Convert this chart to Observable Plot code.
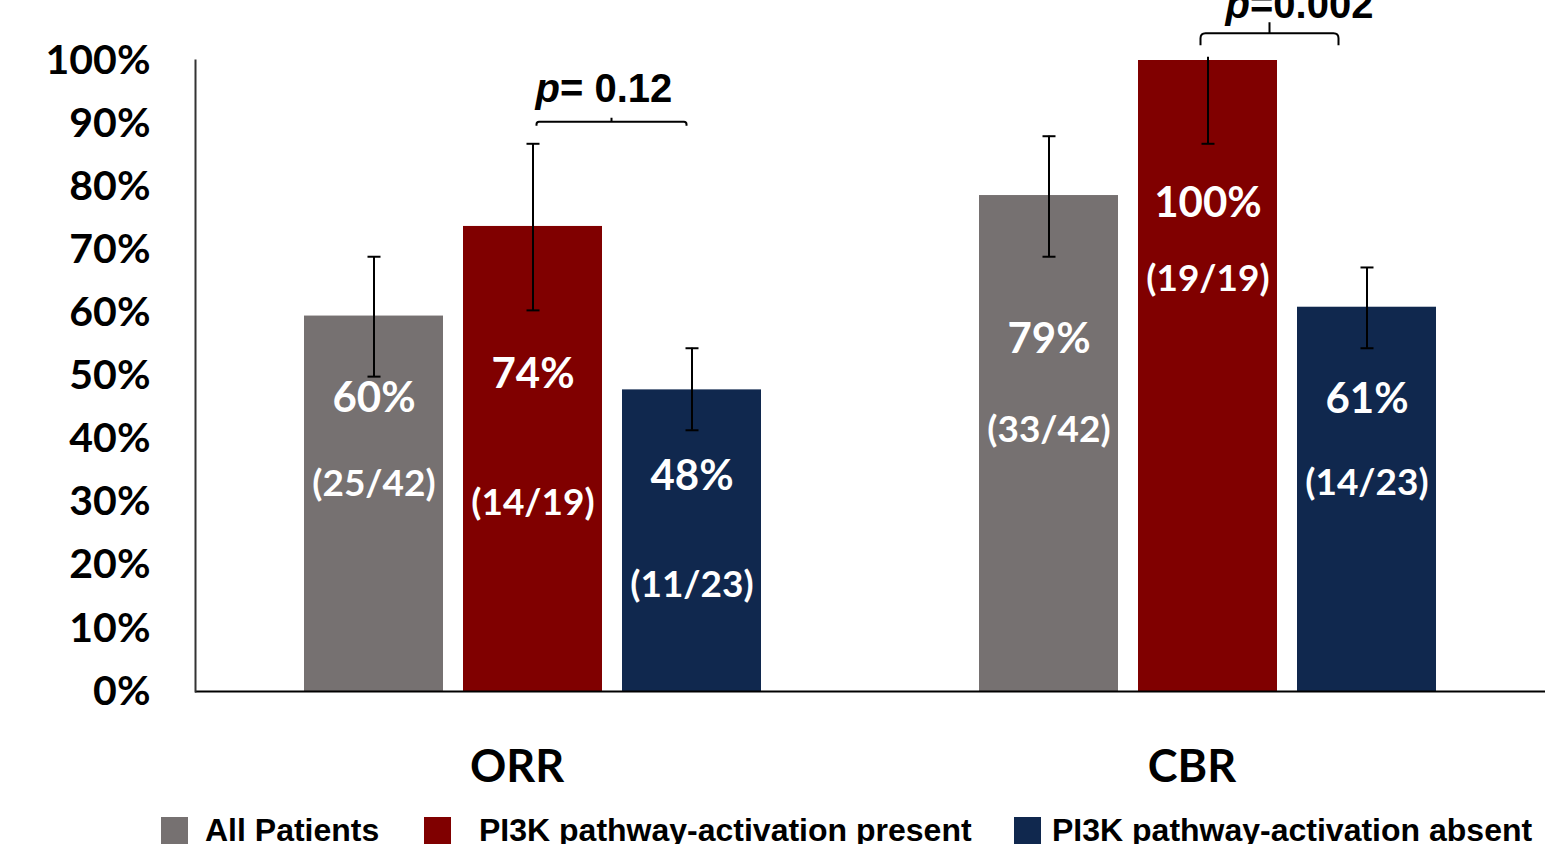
<!DOCTYPE html>
<html>
<head>
<meta charset="utf-8">
<script src="https://cdn.jsdelivr.net/npm/d3@7"></script>
<script src="https://cdn.jsdelivr.net/npm/@observablehq/plot@0.6"></script>
<style>
  html, body { margin: 0; padding: 0; background: #fff; overflow: hidden; }
  #chart svg { display: block; }
  #legend { position: relative; height: 39px; font-family: "Liberation Sans", Arial, sans-serif; font-weight: bold; font-size: 32px; color: #000; }
  #legend .item { position: absolute; top: 12px; height: 27px; display: flex; align-items: center; white-space: nowrap; line-height: 27px; }
  #legend .sw { width: 27px; height: 27px; flex: none; }
</style>
</head>
<body>
<div id="chart"></div>
<div id="legend"></div>
<script>
// ---------------- data ----------------
const groups = ["ORR", "CBR"];
const seriesNames = ["All Patients", "PI3K pathway-activation present", "PI3K pathway-activation absent"];
const seriesColors = ["#767171", "#800000", "#10284E"];

const orrValues = [59.5, 73.7, 47.8];
const cbrValues = [78.6, 100, 60.9];
const orrLow  = [49.9, 60.4, 41.4];
const orrHigh = [68.9, 86.8, 54.4];
const cbrLow  = [68.9, 86.8, 54.4];
const cbrHigh = [88.0, 100.5, 67.2];

const orrPctLabels = ["60%", "74%", "48%"];
const cbrPctLabels = ["79%", "100%", "61%"];
const orrCountLabels = ["(25/42)", "(14/19)", "(11/23)"];
const cbrCountLabels = ["(33/42)", "(19/19)", "(14/23)"];
// where the labels sit inside the bars (in % units, as in the original)
const orrPctLabelAt = [46.4, 50.2, 34.1];
const cbrPctLabelAt = [55.8, 77.3, 46.3];
const orrCountLabelAt = [32.8, 29.8, 16.8];
const cbrCountLabelAt = [41.4, 65.3, 33.0];

const pGroups = ["ORR", "CBR"];
const pValueTexts = ["= 0.12", "=0.002"];
const bracketLevels = [90.3, 104.3];
const pTextLevels = [95.4, 108.7];

const yTicks = [0, 10, 20, 30, 40, 50, 60, 70, 80, 90, 100];

// ---------------- layout / style ----------------
const W = 1557, H = 805, mL = 195, mR = 12, mT = 60, mB = 114;
const padIn = 0.123, padOut = 0.684;
const numFont = "Lato, 'Open Sans', sans-serif";
const arialFont = "'Liberation Sans', Arial, sans-serif";

const valuesBy = {ORR: orrValues, CBR: cbrValues};
const lowBy = {ORR: orrLow, CBR: cbrLow};
const highBy = {ORR: orrHigh, CBR: cbrHigh};
const pctBy = {ORR: orrPctLabels, CBR: cbrPctLabels};
const countBy = {ORR: orrCountLabels, CBR: cbrCountLabels};
const pctAtBy = {ORR: orrPctLabelAt, CBR: cbrPctLabelAt};
const countAtBy = {ORR: orrCountLabelAt, CBR: cbrCountLabelAt};

const rows = groups.flatMap((g) => seriesNames.map((s, i) => ({
  group: g, series: s,
  value: valuesBy[g][i], low: lowBy[g][i], high: highBy[g][i],
  pct: pctBy[g][i], count: countBy[g][i],
  pctAt: pctAtBy[g][i], countAt: countAtBy[g][i]
})));

const pRows = pGroups.map((g, i) => ({group: g, text: pValueTexts[i], bracket: bracketLevels[i], textAt: pTextLevels[i]}));

// horizontal error-bar cap as a symbol
const capSymbol = { draw(ctx) { ctx.moveTo(-6.5, 0); ctx.lineTo(6.5, 0); } };

// bracket drawn between the two link end points
function bracketCurve(endLen, tipLen, padL, padR, r) {
  return (context) => {
    let pts = [];
    return {
      areaStart() {}, areaEnd() {},
      lineStart() { pts = []; },
      point(x, y) { pts.push([+x, +y]); },
      lineEnd() {
        const [x1, y] = pts[0];
        const [x2] = pts[pts.length - 1];
        const a = x1 + padL, b = x2 + padR, m = (a + b) / 2;
        context.moveTo(a, y + endLen);
        context.lineTo(a, y + r);
        context.quadraticCurveTo(a, y, a + r, y);
        context.lineTo(b - r, y);
        context.quadraticCurveTo(b, y, b, y + r);
        context.lineTo(b, y + endLen);
        context.moveTo(m, y);
        context.lineTo(m, y - tipLen);
      }
    };
  };
}
const bracketStyle = {
  ORR: bracketCurve(4, 4, 3.5, -5.5, 2.5),
  CBR: bracketCurve(12, 11, -7.5, -28.5, 5)
};
const pTextOffset = {ORR: 27, CBR: 42};

const pMarks = pRows.flatMap((r) => [
  Plot.link([r], {fx: "group", x1: () => seriesNames[1], x2: () => seriesNames[2], y1: "bracket", y2: "bracket",
    stroke: "black", strokeWidth: 2, curve: bracketStyle[r.group]}),
  Plot.text([r], {fx: "group", x: () => seriesNames[1], y: "textAt", text: () => "p", textAnchor: "end",
    dx: pTextOffset[r.group], fontFamily: arialFont, fontWeight: "bold", fontStyle: "italic", fontSize: 40, fill: "black"}),
  Plot.text([r], {fx: "group", x: () => seriesNames[1], y: "textAt", text: "text", textAnchor: "start",
    dx: pTextOffset[r.group], fontFamily: arialFont, fontWeight: "bold", fontSize: 40, fill: "black"})
]);

const chart = Plot.plot({
  width: W, height: H,
  marginLeft: mL, marginRight: mR, marginTop: mT, marginBottom: mB,
  facet: {margin: 0},
  style: {fontFamily: numFont, color: "black", background: "white"},
  fx: {domain: groups, padding: 0, label: null},
  x: {domain: seriesNames, paddingInner: padIn, paddingOuter: padOut, axis: null},
  y: {domain: [0, 100], label: null},
  color: {domain: seriesNames, range: seriesColors},
  marks: [
    Plot.barY(rows, {fx: "group", x: "series", y: "value", fill: "series"}),
    Plot.ruleX(rows, {fx: "group", x: "series", y1: "low", y2: "high", stroke: "black", strokeWidth: 2}),
    Plot.dot(rows, {fx: "group", x: "series", y: "low", symbol: capSymbol, r: 6, stroke: "black", strokeWidth: 2, fill: "none"}),
    Plot.dot(rows.filter((d) => d.high <= 100), {fx: "group", x: "series", y: "high", symbol: capSymbol, r: 6, stroke: "black", strokeWidth: 2, fill: "none"}),
    Plot.text(rows, {fx: "group", x: "series", y: "pctAt", text: "pct", fill: "white", fontSize: 42, fontWeight: "bold"}),
    Plot.text(rows, {fx: "group", x: "series", y: "countAt", text: "count", fill: "white", fontSize: 37, fontWeight: "bold"}),
    Plot.ruleY([0], {stroke: "black", strokeWidth: 2}),
    Plot.frame({anchor: "left", facetAnchor: "left", stroke: "#333", strokeWidth: 2}),
    Plot.axisY({ticks: yTicks, tickFormat: (d) => d + "%", tickSize: 0, tickPadding: 45, fontSize: 41, fontWeight: "bold", label: null}),
    Plot.axisFx({anchor: "bottom", tickSize: 0, tickPadding: 59, fontSize: 45, fontWeight: "bold", label: null, dx: -16}),
    ...pMarks
  ]
});
document.getElementById("chart").appendChild(chart);

// ---------------- legend ----------------
const legendLeft = [161, 424, 1014];
const legendGap = [17, 28, 11];
const legend = document.getElementById("legend");
seriesNames.forEach((s, i) => {
  const item = document.createElement("div");
  item.className = "item";
  item.style.left = legendLeft[i] + "px";
  const sw = document.createElement("span");
  sw.className = "sw";
  sw.style.background = seriesColors[i];
  const t = document.createElement("span");
  t.textContent = s;
  t.style.marginLeft = legendGap[i] + "px";
  item.appendChild(sw);
  item.appendChild(t);
  legend.appendChild(item);
});
</script>
</body>
</html>
